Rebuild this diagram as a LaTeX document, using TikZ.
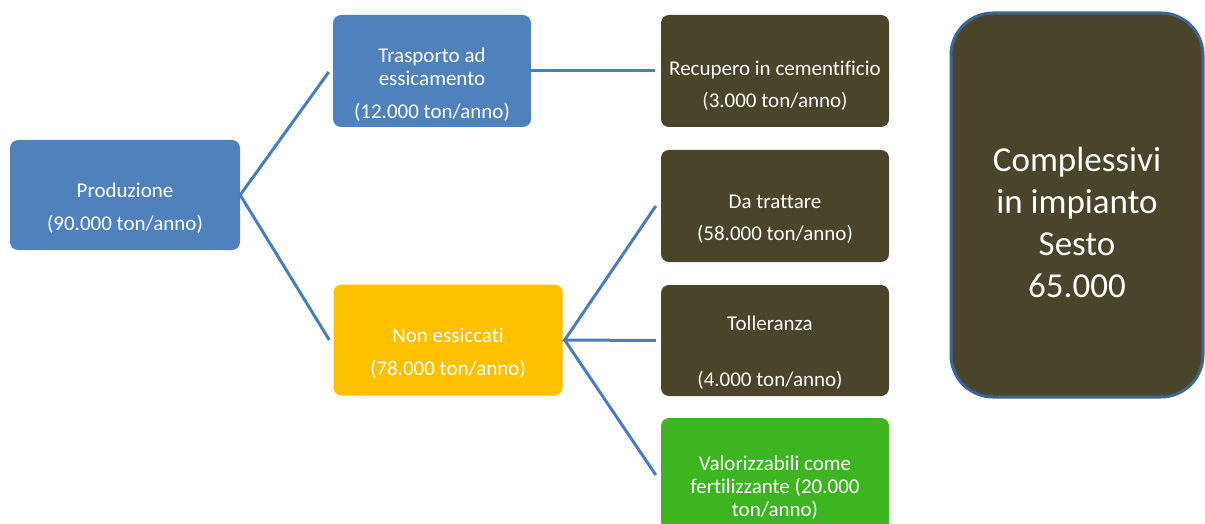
\documentclass[tikz,border=0pt]{standalone}
\usepackage{fontspec}
\setmainfont[Ligatures={NoCommon}]{Carlito}
\definecolor{boxblue}{HTML}{4F81BD}
\definecolor{olive}{HTML}{4A452A}
\definecolor{amber}{HTML}{FFC000}
\definecolor{leaf}{HTML}{3CB521}
\definecolor{linkblue}{HTML}{4A7EBB}
\definecolor{rimblue}{HTML}{3C6496}
\newcommand\fl{\rule{0pt}{20pt}}
\tikzset{
  card/.style={rounded corners=8pt, inner sep=0pt, draw=none},
  txt/.style={anchor=north, inner sep=0pt, align=center, text=white, font=\fontsize{21}{23}\selectfont},
  link/.style={draw=linkblue, line width=3pt},
}
\begin{document}
\begin{tikzpicture}[x=1pt,y=-1pt]
\useasboundingbox (0,0) rectangle (1205,524);
\clip (0,0) rectangle (1205,524);
% boxes
\node[card, fill=boxblue, minimum width=230pt, minimum height=110pt] (prod) at (125,195) {};
\node[card, fill=boxblue, minimum width=198pt, minimum height=112pt] (tras) at (432,71) {};
\node[card, fill=amber, minimum width=229pt, minimum height=111pt] (non) at (448,340) {};
\node[card, fill=olive, minimum width=228pt, minimum height=112pt] (rec) at (775,71) {};
\node[card, fill=olive, minimum width=228pt, minimum height=112pt] (da) at (775,206) {};
\node[card, fill=olive, minimum width=228pt, minimum height=111pt] (tol) at (775,340.5) {};
\node[card, fill=leaf, minimum width=228pt, minimum height=112pt] (val) at (775,474) {};
\node[rounded corners=42pt, fill=olive, draw=rimblue, line width=3pt, minimum width=252pt, minimum height=384pt, inner sep=0pt] (tot) at (1077,205) {};
% texts
\node[txt] (tprod) at (125,197-20) {\fl Produzione\\[10pt](90.000 ton/anno)};
\node[txt] (ttras) at (432,62-20) {\fl Trasporto ad\\essicamento\\[10pt](12.000 ton/anno)};
\node[txt] (tnon) at (448,342-20) {\fl Non essiccati\\[10pt](78.000 ton/anno)};
\node[txt] (trec) at (775,75-20) {\fl Recupero in cementificio\\[9pt](3.000 ton/anno)};
\node[txt] (tda) at (775,208.5-20) {\fl Da trattare\\[9pt](58.000 ton/anno)};
\node[txt] (ttol) at (770,330-20) {\fl Tolleranza\\[33pt](4.000 ton/anno)};
\node[txt] (tval) at (775,470-20) {\fl Valorizzabili come\\fertilizzante (20.000\\ton/anno)};
\node[anchor=north, inner sep=0pt, align=center, text=white, font=\fontsize{35}{42}\selectfont] (ttot) at (1077,171-34) {\rule{0pt}{34pt}Complessivi\\in impianto\\Sesto\\65.000};
% connectors
\coordinate (pj) at (prod.east);
\coordinate (nj) at ([xshift=2pt]non.east);
\draw[link] ([xshift=-4pt]tras.west |- 0,72) -- (pj) -- ([xshift=-4pt]non.west);
\draw[link] (tras.east) -- ([xshift=-6pt]rec.west);
\draw[link] ([xshift=-5pt]da.west) -- (nj) -- ([xshift=-5pt]tol.west);
\draw[link] (nj) -- ([xshift=-5pt,yshift=-1pt]val.west);
\end{tikzpicture}
\end{document}
